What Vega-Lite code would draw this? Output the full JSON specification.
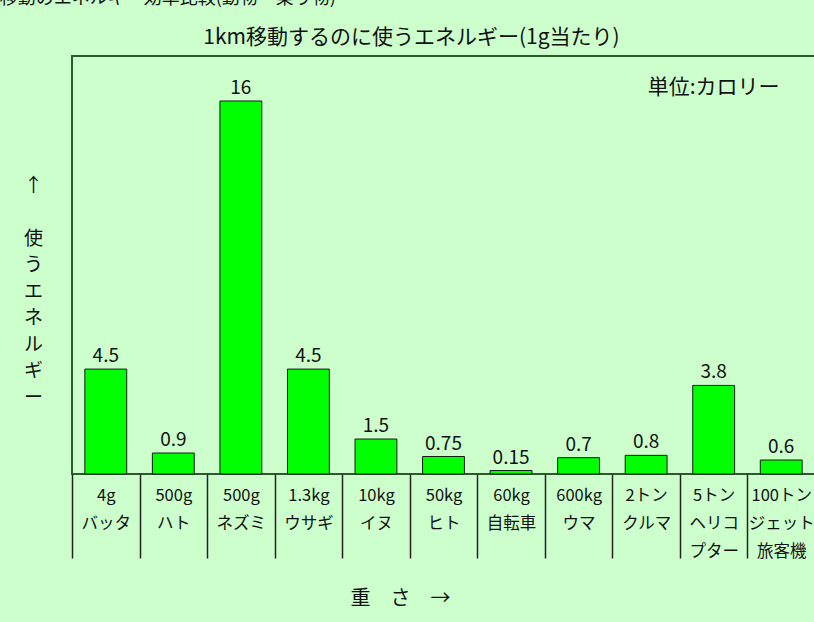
{
  "$schema": "https://vega.github.io/schema/vega-lite/v6.json",
  "width": 743,
  "height": 418,
  "autosize": {"type": "none"},
  "padding": {"left": 72, "top": 56, "right": 0, "bottom": 148},
  "background": "#ccffcc",
  "config": {
    "font": "Noto Sans CJK JP",
    "view": {"stroke": "#2d5a2d", "strokeWidth": 2}
  },
  "data": {
    "values": [
      {"label": "4g|バッタ", "value": 4.5},
      {"label": "500g|ハト", "value": 0.9},
      {"label": "500g|ネズミ", "value": 16},
      {"label": "1.3kg|ウサギ", "value": 4.5},
      {"label": "10kg|イヌ", "value": 1.5},
      {"label": "50kg|ヒト", "value": 0.75},
      {"label": "60kg|自転車", "value": 0.15},
      {"label": "600kg|ウマ", "value": 0.7},
      {"label": "2トン|クルマ", "value": 0.8},
      {"label": "5トン|ヘリコ|プター", "value": 3.8},
      {"label": "100トン|ジェット|旅客機", "value": 0.6}
    ]
  },
  "layer": [
    {
      "mark": {"type": "bar", "width": {"band": 0.62}, "fill": "#00ff00", "stroke": "#1a1a1a", "strokeWidth": 1},
      "encoding": {
        "x": {
          "field": "label",
          "type": "nominal",
          "sort": null,
          "scale": {"paddingInner": 0, "paddingOuter": 0},
          "axis": {
            "title": "重　さ　→",
            "domain": false,
            "tickBand": "extent",
            "tickSize": 84,
            "tickColor": "#222222",
            "tickWidth": 1.5,
            "labelAngle": 0,
            "labelExpr": "split(datum.label, '|')",
            "labelPadding": -71,
            "labelFontSize": 16.5,
            "labelLineHeight": 28,
            "labelColor": "#111111",
            "labelBaseline": "top",
            "titleFontSize": 20,
            "titleFontWeight": "normal",
            "titleX": 328,
            "titleY": 124,
            "titleBaseline": "middle",
            "titleAlign": "center",
            "titleColor": "#111111"
          }
        },
        "y": {
          "field": "value",
          "type": "quantitative",
          "scale": {"domain": [0, 17.93], "nice": false, "zero": true},
          "axis": {
            "title": ["↑", "\u200b", "使", "う", "エ", "ネ", "ル", "ギ", "ー"],
            "domain": false,
            "ticks": false,
            "labels": false,
            "grid": false,
            "titleAngle": 0,
            "titleX": -39,
            "titleY": 120,
            "titleAlign": "center",
            "titleBaseline": "top",
            "titleFontSize": 19,
            "titleFontWeight": "normal",
            "titleLineHeight": 26.5,
            "titleColor": "#111111"
          }
        }
      }
    },
    {
      "mark": {"type": "text", "baseline": "alphabetic", "dy": -7, "fontSize": 19, "color": "#111111"},
      "encoding": {
        "x": {"field": "label", "type": "nominal", "sort": null},
        "y": {"field": "value", "type": "quantitative"},
        "text": {"field": "value", "type": "quantitative"}
      }
    },
    {
      "data": {"values": [{"note": "単位:カロリー"}]},
      "mark": {"type": "text", "fontSize": 21, "baseline": "middle", "align": "center", "color": "#111111"},
      "encoding": {
        "x": {"datum": "5トン|ヘリコ|プター", "type": "nominal"},
        "y": {"datum": 16.56, "type": "quantitative"},
        "text": {"field": "note"}
      }
    },
    {
      "data": {"values": [{"note": "1km移動するのに使うエネルギー(1g当たり)"}]},
      "mark": {"type": "text", "fontSize": 21, "baseline": "middle", "align": "center", "dx": 35.5, "color": "#111111"},
      "encoding": {
        "x": {"datum": "10kg|イヌ", "type": "nominal"},
        "y": {"datum": 18.7, "type": "quantitative"},
        "text": {"field": "note"}
      }
    },
    {
      "data": {"values": [{"note": "移動のエネルギー効率比較(動物・乗り物)"}]},
      "mark": {"type": "text", "fontSize": 18, "align": "left", "baseline": "bottom", "dx": -106, "color": "#111111"},
      "encoding": {
        "x": {"datum": "4g|バッタ", "type": "nominal"},
        "y": {"datum": 20, "type": "quantitative"},
        "text": {"field": "note"}
      }
    }
  ]
}
